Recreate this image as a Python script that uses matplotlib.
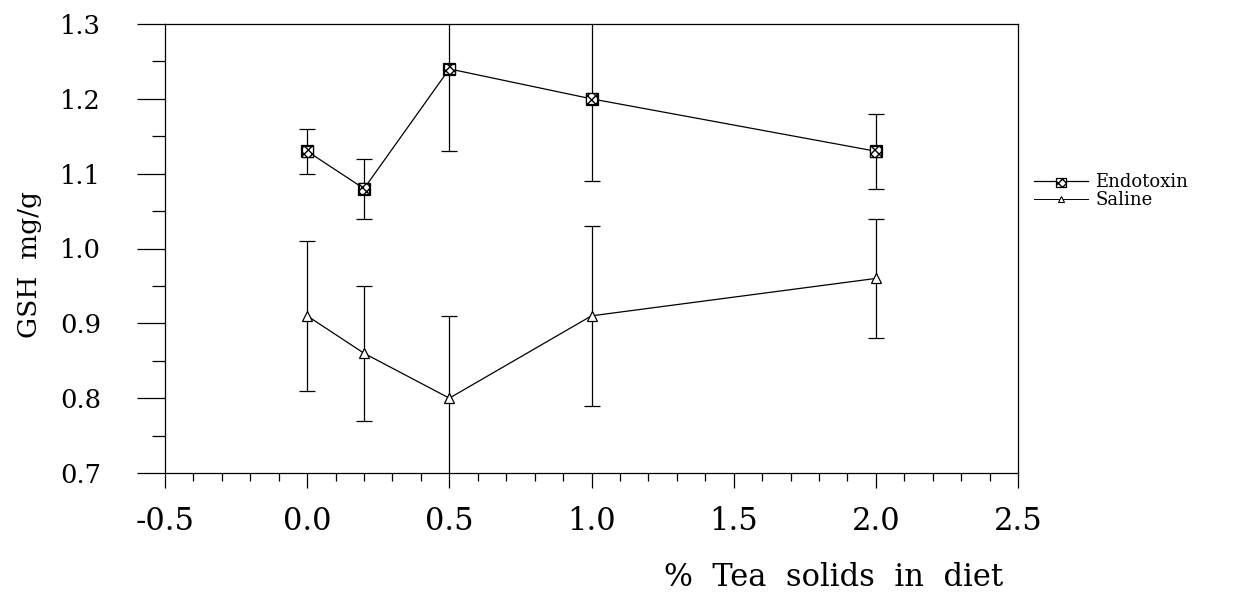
import numpy as np
import matplotlib.pyplot as plt
from matplotlib.lines import Line2D
from matplotlib.ticker import MultipleLocator, FormatStrFormatter

# data
tea = [0.0, 0.2, 0.5, 1.0, 2.0]
endotoxin = [1.13, 1.08, 1.24, 1.20, 1.13]
endotoxin_err = [0.03, 0.04, 0.11, 0.11, 0.05]
saline = [0.91, 0.86, 0.80, 0.91, 0.96]
saline_err = [0.10, 0.09, 0.11, 0.12, 0.08]

xticks = [-0.5, 0.0, 0.5, 1.0, 1.5, 2.0, 2.5]
yticks = [0.7, 0.8, 0.9, 1.0, 1.1, 1.2, 1.3]

plt.rcParams['font.family'] = ['DejaVu Serif']

W, H = 1235, 593
fig = plt.figure(figsize=(W / 100, H / 100), dpi=100)
ax = fig.add_axes([165 / W, (H - 473) / H, (1018 - 165) / W, (473 - 24) / H])

ax.errorbar(tea, endotoxin, yerr=endotoxin_err, color='black', lw=0.9,
            elinewidth=0.9, capsize=6, capthick=0.9, marker='s', ms=8,
            mfc='#8a8a8a', mec='black', mew=0.9, zorder=3)
ax.scatter(tea, endotoxin, s=60, marker='s', facecolor='white',
           edgecolor='black', hatch='xxxx', linewidth=0.9, zorder=4)
ax.errorbar(tea, saline, yerr=saline_err, color='black', lw=0.9,
            elinewidth=0.9, capsize=6, capthick=0.9, marker='^', ms=6.5,
            mfc='white', mec='black', mew=0.9, zorder=3)

ax.set_xlim(-0.5, 2.5)
ax.set_ylim(0.7, 1.3)
ax.set_xticks(xticks)
ax.set_yticks(yticks)
ax.xaxis.set_minor_locator(MultipleLocator(0.1))
ax.yaxis.set_minor_locator(MultipleLocator(0.05))
ax.xaxis.set_major_formatter(FormatStrFormatter('%.1f'))
ax.yaxis.set_major_formatter(FormatStrFormatter('%.1f'))

ax.tick_params(axis='y', which='major', direction='out', length=20, width=0.9,
               labelsize=18.5, pad=26)
ax.tick_params(axis='y', which='minor', direction='out', length=9.5, width=0.9)
ax.tick_params(axis='x', which='major', direction='out', length=11, width=0.9,
               labelsize=22, pad=13)
ax.tick_params(axis='x', which='minor', direction='out', length=6, width=0.9)
for s in ax.spines.values():
    s.set_linewidth(0.9)

fig.text(30 / W, 1 - 265 / H, 'GSH  mg/g', rotation=90, ha='center',
         va='center', fontsize=19)
fig.text(1003 / W, 1 - 578 / H, '%  Tea  solids  in  diet', ha='right',
         va='center', fontsize=22)

h_endo = (Line2D([], [], color='black', lw=0.9),
          ax.scatter([], [], s=45, marker='s', facecolor='white',
                     edgecolor='black', hatch='xxxx', linewidth=0.9))
h_sal = Line2D([], [], color='black', lw=0.7, marker='^', ms=5,
               mfc='white', mec='black', mew=0.8)
fig.legend([h_endo, h_sal], ['Endotoxin', 'Saline'], loc='upper left',
           bbox_to_anchor=(1025 / W, 1 - 164 / H), frameon=False,
           fontsize=13, handlelength=3.0, handletextpad=0.4,
           labelspacing=0.0, borderpad=0)

fig.savefig('out.png', dpi=100)
